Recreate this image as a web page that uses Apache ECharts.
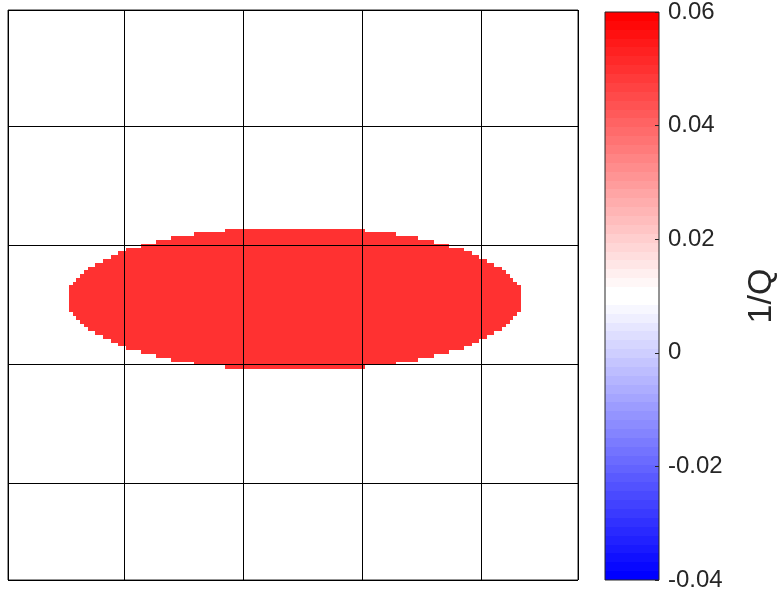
<!DOCTYPE html>
<html>
<head>
<meta charset="utf-8">
<script src="https://cdn.jsdelivr.net/npm/echarts@6/dist/echarts.min.js"></script>
<style>
html,body{margin:0;padding:0;background:#fff;}
#chart{width:782px;height:592px;}
</style>
</head>
<body>
<div id="chart"></div>
<script>
// ---- Image grid: axis coordinates of the data cells ----
const gridX0 = 0.018;      // left edge of column 0
const gridY0 = 0.002;      // top edge of row 0
const cellSize = 0.032;    // cell width/height in axis units

// ---- Ellipse region (rows of the image with their first/last filled column) ----
const ellipseRows =     [58,59,60,61,62,63,64,65,66,67,68,69,70,71,72,73,74,75,76,77,78,79,80,81,82,83,84,85,86,87,88,89,90,91,92,93,94];
const ellipseColStart = [57,49,43,39,35,31,29,27,25,23,21,20,19,18,17,16,16,16,16,16,16,16,17,18,19,20,21,23,25,27,29,31,35,39,43,49,57];
const ellipseColEnd =   [93,101,107,111,115,119,121,123,125,127,129,130,131,132,133,134,134,134,134,134,134,134,133,132,131,130,129,127,125,123,121,119,115,111,107,101,93];
const ellipseValue = 0.05;

// ---- Colour bar ----
const colorbarMin = -0.04;
const colorbarMax = 0.06;
const colorbarInterval = 0.02;
const colorbarTickLabels = ['-0.04','-0.02','0','0.02','0.04','0.06'];
const colorbarTitle = '1/Q';
const colorLevels = 64;

function levelColor(i) {
  const half = colorLevels / 2;
  let r, g, b;
  if (i < half) {
    const t = i / (half - 1);
    r = g = Math.round(255 * t); b = 255;
  } else {
    const t = (i - half) / (half - 1);
    r = 255; g = b = Math.round(255 * (1 - t));
  }
  return 'rgb(' + r + ',' + g + ',' + b + ')';
}
function valueColor(v) {
  let i = Math.floor((v - colorbarMin) / (colorbarMax - colorbarMin) * colorLevels);
  i = Math.max(0, Math.min(colorLevels - 1, i));
  return levelColor(i);
}

const levelStep = (colorbarMax - colorbarMin) / colorLevels;
const colorbarData = [];
for (let i = 0; i < colorLevels; i++) {
  colorbarData.push([0.5, colorbarMin + (i + 0.5) * levelStep, i]);
}
const ellipseData = ellipseRows.map((r, k) => [ellipseColStart[k], r, ellipseColEnd[k], ellipseValue]);

function rectFrom(p1, p2) {
  const x0 = Math.round(Math.min(p1[0], p2[0]));
  const x1 = Math.round(Math.max(p1[0], p2[0]));
  const y0 = Math.round(Math.min(p1[1], p2[1]));
  const y1 = Math.round(Math.max(p1[1], p2[1]));
  return {x: x0, y: y0, width: x1 - x0, height: y1 - y0};
}

const FONT = '"Liberation Sans", Arial, Helvetica, sans-serif';
const TEXT = '#262626';

const chart = echarts.init(document.getElementById('chart'), null, {renderer: 'canvas'});
const option = {
  animation: false,
  backgroundColor: '#ffffff',
  grid: [
    {left: 8, top: 10, width: 570, height: 570, show: true, z: 5,
     backgroundColor: 'transparent', borderColor: '#262626', borderWidth: 1},
    {left: 605, top: 10, width: 54, height: 571, show: true, z: 5,
     backgroundColor: 'transparent', borderColor: '#262626', borderWidth: 1}
  ],
  xAxis: [
    {type: 'value', gridIndex: 0, min: 0.018, max: 4.818, z: 10,
     axisLine: {show: false, onZero: false}, axisTick: {show: false}, axisLabel: {show: false},
     splitLine: {show: true, lineStyle: {color: '#000', width: 1}}},
    {type: 'value', gridIndex: 1, min: 0, max: 1, show: false, axisLine: {onZero: false}}
  ],
  yAxis: [
    {type: 'value', gridIndex: 0, min: 0.018, max: 4.818, inverse: true, z: 10,
     axisLine: {show: false, onZero: false}, axisTick: {show: false}, axisLabel: {show: false},
     splitLine: {show: true, lineStyle: {color: '#000', width: 1}}},
    {type: 'value', gridIndex: 1, min: colorbarMin, max: colorbarMax, interval: colorbarInterval,
     position: 'right', z: 10,
     axisLine: {show: false, onZero: false},
     axisTick: {show: true, inside: true, length: 4, lineStyle: {color: TEXT}},
     splitLine: {show: false},
     axisLabel: {fontSize: 24, color: TEXT, fontFamily: FONT, margin: 9, padding: [6, 0, 0, 0],
       formatter: function (v) {
         const idx = Math.round((v - colorbarMin) / colorbarInterval);
         return colorbarTickLabels[idx];
       }},
     name: colorbarTitle, nameLocation: 'middle', nameRotate: 90, nameGap: 86,
     nameTextStyle: {fontSize: 34, color: TEXT, fontFamily: FONT}}
  ],
  series: [
    {
      type: 'custom', xAxisIndex: 0, yAxisIndex: 0, z: 2,
      data: ellipseData,
      renderItem: function (params, api) {
        const c0 = api.value(0), row = api.value(1), c1 = api.value(2);
        const xl = gridX0 + c0 * cellSize, xr = gridX0 + (c1 + 1) * cellSize;
        const yt = gridY0 + row * cellSize, yb = yt + cellSize;
        const p1 = api.coord([xl, yt]), p2 = api.coord([xr, yb]);
        return {type: 'rect', shape: rectFrom(p1, p2), style: {fill: valueColor(api.value(3))}};
      }
    },
    {
      type: 'custom', xAxisIndex: 1, yAxisIndex: 1, z: 2,
      data: colorbarData,
      renderItem: function (params, api) {
        const i = api.value(2);
        const lo = colorbarMin + i * levelStep, hi = lo + levelStep;
        const p1 = api.coord([0, hi]), p2 = api.coord([1, lo]);
        return {type: 'rect', shape: rectFrom(p1, p2), style: {fill: levelColor(i)}};
      }
    }
  ]
};
chart.setOption(option);
</script>
</body>
</html>
